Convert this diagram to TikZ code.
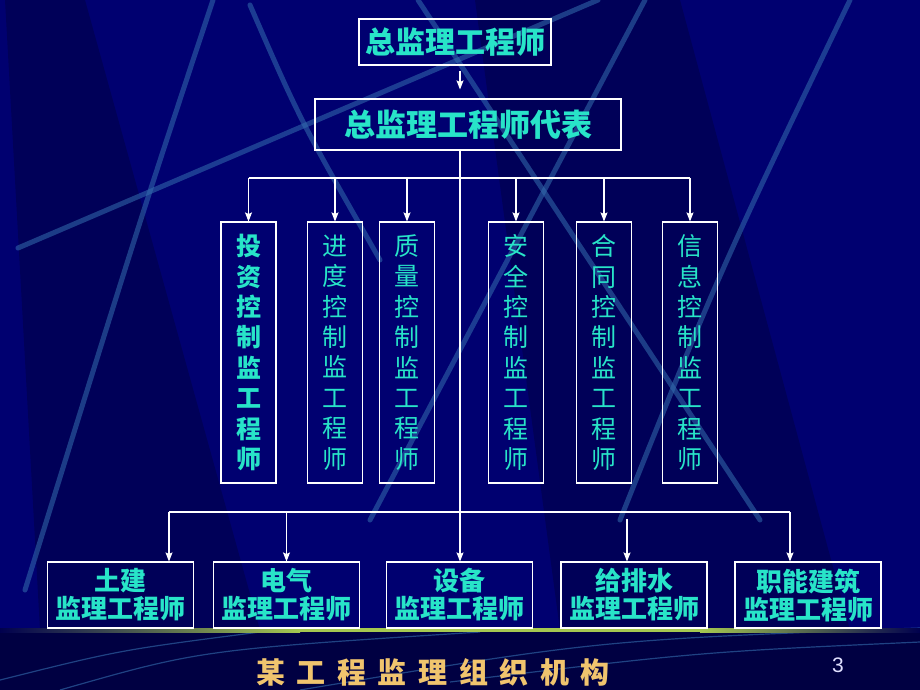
\documentclass[tikz,border=0pt]{standalone}
\usepackage{fontspec}
\usepackage{tikz}
\usetikzlibrary{arrows.meta}
\newfontfamily\cjk{Noto Sans CJK SC}
\newfontfamily\titlefont{Noto Sans CJK SC}[LetterSpace=40]
\setsansfont{Liberation Sans}
\definecolor{bgblue}{RGB}{0,0,112}
\definecolor{bgdark}{RGB}{0,0,78}
\definecolor{bgfoot}{RGB}{0,0,66}
\definecolor{bandblue}{RGB}{52,110,175}
\definecolor{boxtext}{RGB}{40,228,200}
\definecolor{gold}{RGB}{240,196,110}
\definecolor{olive}{RGB}{165,200,80}
\tikzset{
  box/.style={draw=white, line width=1.1pt, text=boxtext, inner sep=0pt, align=center},
  vbox/.style={box, minimum width=55pt, minimum height=261pt, font=\cjk\fontsize{25}{30.4}\selectfont},
  vbold/.style={vbox, font=\cjk\bfseries\fontsize{25}{30.4}\selectfont},
  hbox/.style={box, minimum width=146pt, minimum height=66pt, font=\cjk\bfseries\fontsize{26}{28}\selectfont},
  arr/.style={white, line width=1.1pt, -{Stealth[length=9pt,width=7pt,inset=1.5pt]}},
  link/.style={white, line width=1.1pt},
  band/.style={bandblue, line width=5pt, opacity=0.55, line cap=round},
  thinband/.style={bandblue, line width=1.2pt, opacity=0.6}
}

\begin{document}
\begin{tikzpicture}[x=1pt, y=-1pt]
  \useasboundingbox (0,0) rectangle (920,690);
  \fill[bgblue] (0,0) rectangle (920,690);
  \fill[bgdark, opacity=0.7] (5,0) -- (85,0) -- (260,630) -- (40,630) -- cycle;
  \fill[bgdark, opacity=0.7] (475,0) -- (680,0) -- (850,630) -- (560,630) -- cycle;
  \draw[band] (213,0) .. controls (140,220) .. (25,590);
  \draw[band] (18,248) -- (598,0);
  \draw[band] (250,5) .. controls (300,120) .. (380,260);
  \draw[band] (418,0) -- (760,520);
  \draw[band] (645,0) -- (370,520);
  \draw[band] (850,0) .. controls (720,270) .. (620,520);
  \fill[bgfoot] (0,630) rectangle (920,690);
  \draw[thinband] (0,680) .. controls (120,650) .. (260,632);
  \draw[thinband] (60,690) .. controls (200,650) .. (480,632);
  \draw[thinband] (300,690) .. controls (600,640) .. (920,628);
  \draw[thinband] (450,682) .. controls (700,652) .. (920,642);
  \shade[left color=bgdark, right color=olive] (0,628) rectangle (300,632);
  \fill[olive] (299,628) rectangle (701,632);
  \shade[left color=olive, right color=bgdark] (700,628) rectangle (920,632);

  \node[box, minimum width=192pt, minimum height=46pt, font=\cjk\bfseries\fontsize{30}{30}\selectfont] (zong) at (455,42) {总监理工程师};
  \node[box, minimum width=306pt, minimum height=51pt, font=\cjk\bfseries\fontsize{31}{31}\selectfont] (daibiao) at (468,124.5) {总监理工程师代表};

  \node[vbold] (touzi) at (248.5,352.5) {投\\资\\控\\制\\监\\工\\程\\师};
  \node[vbox] (jindu) at (335,352.5) {进\\度\\控\\制\\监\\工\\程\\师};
  \node[vbox] (zhiliang) at (407,352.5) {质\\量\\控\\制\\监\\工\\程\\师};
  \node[vbox] (anquan) at (516,352.5) {安\\全\\控\\制\\监\\工\\程\\师};
  \node[vbox] (hetong) at (604,352.5) {合\\同\\控\\制\\监\\工\\程\\师};
  \node[vbox] (xinxi) at (690,352.5) {信\\息\\控\\制\\监\\工\\程\\师};

  \node[hbox] (tujian) at (120.5,595) {土建\\监理工程师};
  \node[hbox] (dianqi) at (286.5,595) {电气\\监理工程师};
  \node[hbox] (shebei) at (459.5,595) {设备\\监理工程师};
  \node[hbox] (geipaishui) at (634,595) {给排水\\监理工程师};
  \node[hbox] (zhineng) at (808,595) {职能建筑\\监理工程师};

  \node[text=gold, font=\titlefont\bfseries\fontsize{29}{29}\selectfont] (title) at (433,672) {某工程监理组织机构};
  \node[text=white!88!blue, font=\sffamily\fontsize{21}{21}\selectfont] (page) at (838,665) {3};

  \coordinate (topbar) at (460,178);
  \coordinate (lowbar) at (460,512);
  \coordinate (bl) at (169,512);
  \coordinate (br) at (790,512);
  \coordinate (bg) at (627,519);

  \draw[arr, shorten <=5pt, shorten >=9pt] (zong.south -| topbar) -- (daibiao.north -| topbar);
  \draw[arr] (daibiao.south -| topbar) -- (shebei.north -| topbar);
  \draw[link] (topbar -| touzi.north) -- (topbar -| xinxi.north);
  \foreach \n in {touzi,jindu,zhiliang,anquan,hetong,xinxi}
    \draw[arr] (topbar -| \n.north) -- (\n.north);
  \draw[link] (bl) -- (br);
  \draw[arr] (bl) -- (bl |- tujian.north);
  \draw[arr] (lowbar -| dianqi.north) -- (dianqi.north);
  \draw[arr] (bg) -- (bg |- geipaishui.north);
  \draw[arr] (br) -- (br |- zhineng.north);
\end{tikzpicture}
\end{document}
